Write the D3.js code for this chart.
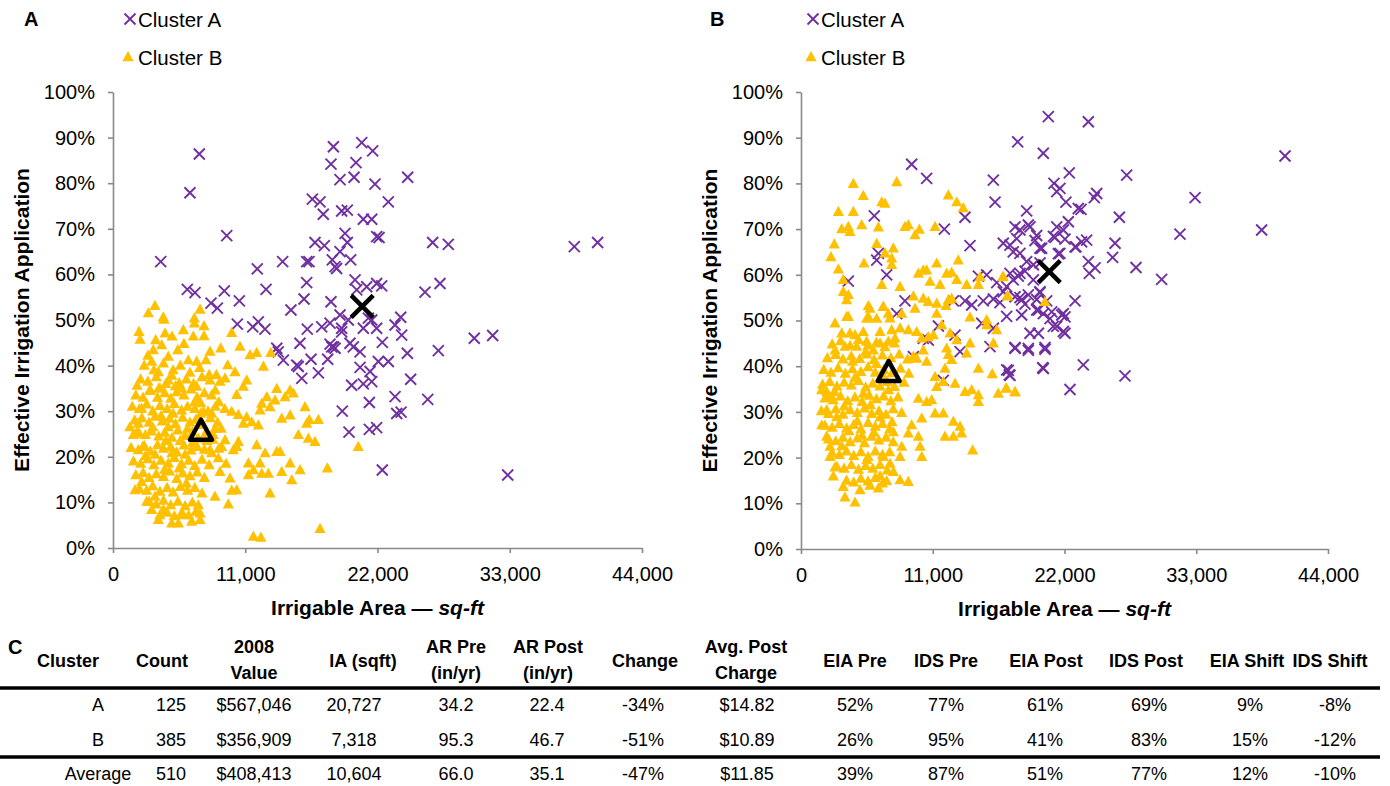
<!DOCTYPE html>
<html>
<head>
<meta charset="utf-8">
<script src="https://cdn.jsdelivr.net/npm/d3@7"></script>
<style>
  body { margin: 0; background: #fff; }
  text { font-family: "Liberation Sans", Arial, sans-serif; fill: #000; }
</style>
</head>
<body>
<div id="chart"></div>
<script>
// ---- data: [irrigable area (sq-ft), effective irrigation application (%)]
const preClusterA = [
  [7180,86.4],[6400,77.9],[9460,68.5],[3970,62.8],[6180,56.7],[6820,56.0],[8150,53.7],[8680,52.6],[9260,56.4],[10510,54.2],
  [12000,61.2],[12730,56.7],[14110,62.8],[14800,52.2],[16110,62.8],[16300,62.8],[16110,58.2],[15890,54.6],[18130,54.0],[18330,88.0],
  [18130,84.2],[18880,80.8],[16580,76.5],[17220,75.9],[17490,73.2],[19020,73.9],[19490,74.1],[16800,67.0],[17580,66.3],[18240,63.2],
  [18600,61.3],[18880,65.0],[19300,69.0],[19490,67.0],[19770,63.2],[20130,58.8],[20690,88.9],[21600,87.1],[20210,84.5],[20050,81.3],
  [21790,79.8],[21520,72.1],[20820,72.1],[21930,68.3],[18880,51.1],[20270,56.6],[21100,57.3],[21930,58.0],[24510,81.3],[22900,75.9],
  [22130,68.1],[26590,67.0],[27890,66.6],[38370,66.1],[40310,67.0],[18470,61.7],[22350,57.5],[25950,56.1],[27200,58.0],[19020,48.2],
  [21240,50.4],[21930,48.2],[23930,50.6],[23460,48.9],[24010,46.7],[22400,45.1],[19710,44.9],[19990,44.1],[20550,43.0],[18190,44.1],
  [18470,43.8],[24480,42.7],[27060,43.3],[30050,46.0],[31580,46.6],[22070,40.9],[22900,40.9],[20550,39.6],[21380,38.7],[24760,37.0],
  [19850,35.7],[20820,36.0],[23460,33.2],[26180,32.6],[19070,30.0],[21320,31.9],[23600,29.5],[23960,29.8],[19630,25.4],[21320,26.0],
  [21930,26.4],[22400,17.1],[32830,16.0],[10340,49.1],[11620,48.5],[12090,49.6],[12640,48.0],[13620,43.8],[13750,43.0],[14170,41.2],
  [15550,44.9],[15280,40.1],[15410,39.8],[15700,37.2],[16470,41.4],[17080,38.4],[16160,48.0],[17360,48.5],[18050,49.3],[17860,41.4],
  [18050,44.7],[18330,44.1],[19020,47.4],[19570,50.0],[20820,48.2],[21520,50.0],[21520,36.5]
];
const preClusterB = [
  [2940,51.5],[3490,53.1],[4180,50.6],[7240,52.3],[6760,50.4],[4240,50.1],[2160,47.4],[2250,45.7],[3550,45.6],[4330,47.1],
  [4910,46.4],[5850,47.8],[6770,49.3],[7570,48.7],[6680,46.4],[7570,46.5],[9870,47.2],[10560,44.2],[8960,43.8],[8070,43.1],
  [7740,41.2],[6960,40.9],[6260,41.2],[5380,43.4],[4050,44.5],[3350,43.4],[3220,40.9],[11400,42.3],[11950,42.8],[12510,39.8],
  [13120,42.8],[9540,40.1],[10150,38.6],[11120,36.8],[10840,35.4],[10290,33.6],[9320,37.2],[8900,36.5],[8070,36.8],[6960,35.4],
  [5710,35.0],[4610,36.8],[3910,35.0],[3080,34.7],[3770,38.6],[2380,30.6],[2110,27.3],[1690,24.8],[2190,25.1],[2470,22.2],
  [1830,12.7],[2380,14.5],[2800,10.2],[3220,8.4],[3770,6.2],[4890,5.4],[5440,5.4],[6540,5.8],[7240,6.2],[7240,7.6],
  [5850,7.2],[4190,8.4],[3490,11.3],[9590,9.6],[8480,11.3],[10290,12.7],[9870,12.6],[8900,16.7],[9730,15.3],[8760,19.7],
  [8070,21.5],[9040,22.2],[10290,22.2],[10430,23.3],[10010,21.5],[9320,23.7],[8480,26.2],[8210,29.5],[7510,29.9],[7240,28.1],
  [8350,24.8],[9870,29.9],[10430,29.2],[11120,28.7],[11540,27.6],[12090,26.9],[10840,27.3],[12230,30.2],[12370,31.7],[12790,33.1],
  [13060,30.9],[13480,32.4],[13620,34.9],[14310,33.1],[14730,34.6],[15000,33.9],[14030,28.4],[14730,29.1],[15420,24.8],[16110,27.3],
  [16330,28.1],[17080,28.1],[15970,30.9],[16250,24.0],[16800,23.3],[11950,22.6],[12650,20.8],[13620,21.1],[13900,21.1],[14730,18.6],
  [15560,17.1],[14030,16.7],[12920,16.3],[12370,16.3],[12230,18.6],[11260,18.6],[11260,16.0],[11680,17.1],[14870,14.9],[13060,12.0],
  [17830,17.5],[20400,22.2],[11680,2.5],[12300,2.3],[17220,4.2],
  [2600,40],[3400,39],[4200,40.5],[5000,39],[5600,40],[6400,38.5],[7200,39.5],[8000,38],
  [2300,37],[2900,36.5],[3600,37.5],[4400,36],[4900,37.8],[5500,36.2],[6100,37],[6700,36],[7400,37.5],[8600,38],
  [1900,33.5],[2500,33],[3100,34.5],[3700,33],[4300,34],[4800,32.8],[5300,34.2],[5900,33.5],[6500,34.8],[7000,33],[7600,34],[8200,33.5],[8800,32],
  [1600,31],[2200,30.5],[2800,31.5],[3300,30],[3900,31.2],[4500,30.5],[5100,31.6],[5700,30.2],[6200,31],[6800,30.5],[7300,31.8],[7900,30],[8500,31],
  [1800,28],[2400,28.5],[3000,27.5],[3500,28.8],[4100,27.8],[4700,28.4],[5200,27.2],[5800,28.6],[6400,27.5],[6900,28.2],[7500,27],[8100,28.5],[8700,27.5],
  [2000,25.5],[2700,24.8],[3200,25.6],[3800,24.5],[4300,25.3],[4900,24.2],[5400,25.8],[6000,24.6],[6600,25.4],[7100,24],[7700,25.2],[8300,23.8],
  [1500,22],[2100,21.5],[2600,22.4],[3100,21.2],[3700,22.6],[4200,21.8],[4800,22.2],[5300,21],[5900,22.5],[6500,21.4],[7000,22.2],[7600,21.6],[8200,20.8],
  [1700,19],[2300,18.5],[2900,19.5],[3400,18.2],[4000,19.2],[4600,18.6],[5100,19.8],[5700,18.4],[6300,19.2],[6800,18],[7400,19.4],[8000,18.2],
  [1900,16],[2500,16.5],[3000,15.4],[3600,16.2],[4200,15.6],[4700,16.8],[5300,15.2],[5800,16.4],[6400,15.8],[7000,16.6],[7600,15.4],
  [2200,13],[2800,12.6],[3300,13.6],[3900,12.4],[4500,13.2],[5000,12.2],[5600,13.4],[6200,12.6],[6800,13.2],[7400,12],
  [3000,10.2],[3600,9.6],[4200,10.4],[4800,9.4],[5400,10.2],[6000,9.2],[6600,10],[7100,9.4],
  [3900,7.2],[4500,7.8],[5100,7],[5700,7.6],[6300,7.2],[6900,8],
  [4600,26.5],[5000,29.5],[5600,23.5],[6200,26.2],[3500,20.5],[4400,23.5],[6800,32],[5200,35.5],[4000,29],[6000,20.5],
  [7300,29.5],[3300,26.5],[5500,17.5],[6600,23],[4900,20.8],[3800,35],[7800,23.5],[4300,17.2],[6100,14.2],[2700,20.2],
  [2900,42.2],[4600,42],[5900,44.8],[8500,34.6],[9300,30.5],[9000,26.2],[8800,21.8],[9400,18.5],[2000,35.6],[1400,26.5]
];
const postClusterA = [
  [9240,84.2],[10490,81.1],[6120,72.9],[11970,70.0],[13690,72.6],[14110,66.4],[6460,64.7],[6320,63.2],[7150,60.0],[3950,58.6],
  [16060,80.7],[16200,75.9],[18090,89.1],[20230,86.6],[20650,94.6],[22400,82.3],[21120,80.0],[21620,78.9],[21350,78.2],[22120,75.9],
  [18840,74.0],[23150,74.5],[17870,70.5],[18280,69.8],[18980,70.9],[19120,70.5],[19680,68.6],[19540,67.5],[21350,70.5],[21900,69.8],
  [22320,71.6],[21210,68.2],[22040,67.8],[16890,66.9],[17450,66.5],[18010,67.9],[17720,65.0],[18280,64.7],[20090,65.8],[21620,64.7],
  [22880,66.1],[18840,62.9],[19400,62.2],[19960,62.6],[15500,60.0],[14810,59.7],[17450,60.3],[18140,59.7],[18700,60.8],[16340,58.3],
  [17170,57.4],[17720,58.9],[19400,58.9],[16890,56.3],[17870,55.2],[18420,54.5],[18980,55.6],[19960,56.1],[20510,54.3],[8680,54.3],
  [12720,54.3],[13690,54.3],[14250,53.4],[15220,54.3],[16060,54.7],[16610,53.9],[7990,51.5],[22880,54.3],[21900,51.5],[20930,51.9],
  [19820,52.3],[20230,51.5],[18420,51.2],[23990,93.5],[40410,86.0],[27190,81.8],[24690,77.8],[24490,76.9],[32900,76.9],[23380,74.3],
  [26580,72.6],[31640,68.9],[38460,69.8],[26220,66.9],[26020,63.8],[23430,67.2],[23850,67.6],[22960,66.1],[21070,68.4],[19950,65.8],
  [21490,64.6],[23990,62.9],[24550,61.5],[24070,60.3],[27970,61.6],[30110,59.0],[18280,60.3],[19950,56.3],[19680,54.6],[18280,55.0],
  [18700,53.6],[19680,52.3],[20790,50.4],[22040,50.8],[21770,51.2],[21350,48.7],[22040,47.2],[17170,50.9],[19120,47.2],[19820,47.2],
  [17870,44.1],[18980,43.9],[20370,44.1],[23570,40.3],[20180,39.7],[27050,37.9],[17310,39.1],[17450,38.0],[22460,34.9],[11470,48.8],
  [10210,46.1],[10630,45.7],[9380,42.1],[12860,46.8],[13280,43.2],[11880,36.9],[15090,49.4],[16060,48.3],[15780,44.3],[17170,39.2],
  [17390,38.1],[17870,43.9],[18980,43.5],[20370,43.7],[20230,39.5],[21060,48.7],[21900,47.6]
];
const postClusterB = [
  [4370,79.9],[7990,80.3],[5200,77.3],[6740,75.9],[7010,75.6],[3120,73.8],[4370,73.8],[12300,77.4],[13000,75.9],[13550,74.6],
  [3400,70.0],[3950,70.5],[4090,69.4],[5070,70.9],[6460,70.4],[8680,70.5],[8960,70.9],[9880,69.9],[9520,68.7],[11190,70.5],
  [2780,66.7],[2500,63.9],[3120,61.2],[3530,58.9],[3530,56.3],[3950,55.6],[6320,66.8],[7010,64.7],[7710,65.8],[7570,63.6],
  [7570,62.2],[5260,62.5],[11330,62.5],[9800,60.3],[10210,61.0],[10490,61.0],[12160,60.3],[12580,60.5],[13130,63.2],[13000,58.9],
  [6740,57.8],[8270,57.4],[10770,58.5],[11610,57.8],[13830,57.8],[14810,57.8],[14950,59.5],[16840,59.5],[9380,55.3],[10210,54.8],
  [10630,54.1],[11330,53.7],[12300,54.5],[12580,54.8],[12110,53.2],[5620,53.2],[5760,52.6],[6870,53.0],[7290,51.5],[9520,52.6],
  [8410,51.5],[17260,55.3],[20370,54.1],[3810,50.8],[5480,50.4],[6320,50.4],[11330,51.5],[14110,50.7],[15500,50.1],[16890,59.6],
  [17230,55.4],[17120,35.2],[17870,34.3],[3810,54.5],[6870,53.0],[5620,50.8],[7430,50.5],[2840,49.4],[3950,50.8],[3400,47.2],
  [4090,47.2],[4510,46.8],[5200,47.5],[6600,47.5],[7570,47.9],[8270,48.3],[8960,47.9],[7850,46.1],[2840,43.5],[3670,44.3],
  [4650,44.3],[5480,45.4],[6040,43.5],[6600,45.0],[7290,45.4],[9660,47.5],[10080,46.1],[10630,46.4],[11050,46.8],[10210,43.5],
  [9660,41.7],[9380,42.1],[10490,41.0],[11750,49.0],[12440,47.2],[12160,43.9],[12300,42.5],[12580,41.4],[13000,45.7],[13830,42.8],
  [14110,45.0],[15500,49.0],[16340,47.9],[16060,45.0],[12020,39.5],[11190,37.7],[11330,35.5],[11880,36.6],[12860,36.2],[13690,34.4],
  [14250,34.8],[14810,33.7],[14810,32.2],[14810,39.5],[15970,38.3],[16470,34.0],[17170,35.1],[17870,34.4],[9800,32.9],[10490,32.2],
  [10910,32.6],[11190,29.7],[11880,29.7],[12720,27.9],[13280,26.8],[13410,25.3],[12020,24.6],[12720,24.6],[14330,21.6],[10080,28.6],
  [9240,27.1],[8960,25.3],[9800,24.6],[9940,22.4],[10080,20.2],[8960,14.7],[8270,15.1],[7710,16.9],[7430,18.7],[6870,20.2],
  [8270,20.2],[8410,22.4],[7710,25.6],[4510,10.2],[3670,11.3],[2700,15.9],[3530,13.6],[4930,12.9],[5760,13.9],[6600,16.0],
  [7150,14.9],[6460,13.3],[1730,34.8],[2140,34.4],[2420,33.3],[1730,27.1],[2140,24.6],[2420,22.4],[2420,20.2],[2840,17.9],
  [2980,28.9],[2140,30.4],
  [2600,44.8],[3300,45.5],[4100,44.5],[4800,45.8],[5600,44.6],[6300,45.2],[7000,44.2],[7800,45],
  [2200,41.8],[2900,42.5],[3500,41.5],[4200,42.2],[4900,41.6],[5500,42.6],[6100,41.4],[6800,42.4],[7500,41.8],[8200,42.6],[8900,41.5],
  [1900,39.2],[2500,38.6],[3100,39.6],[3700,38.4],[4300,39.4],[5000,38.8],[5600,39.8],[6200,38.6],[6900,39.2],[7600,38.5],[8300,39.5],[9000,38.4],
  [1800,36],[2400,36.6],[3000,35.6],[3600,36.4],[4200,35.8],[4800,36.8],[5400,35.4],[6000,36.2],[6600,35.6],[7200,36.6],[7800,35.5],[8600,36.4],
  [2000,33],[2700,32.6],[3300,33.4],[3900,32.4],[4500,33.2],[5100,32.2],[5700,33.6],[6300,32.8],[6900,33.4],[7500,32.4],[8100,33.2],
  [1700,30.2],[2300,29.6],[2900,30.6],[3500,29.4],[4100,30.4],[4700,29.8],[5300,30.8],[5900,29.6],[6500,30.2],[7100,29.4],[7700,30.6],[8400,29.8],
  [2000,27],[2600,26.6],[3200,27.4],[3800,26.4],[4400,27.2],[5000,26.2],[5600,27.6],[6200,26.8],[6800,27.4],[7400,26.2],
  [2300,24],[2900,23.6],[3500,24.4],[4100,23.4],[4700,24.2],[5300,23.2],[5900,24.6],[6500,23.8],[7100,24.4],[7700,23.4],
  [2600,21],[3200,20.6],[3800,21.4],[4400,20.4],[5000,21.2],[5600,20.2],[6200,21.4],[6800,20.6],[7400,21.2],
  [3000,18],[3600,17.6],[4200,18.4],[4800,17.4],[5400,18.2],[6000,17.6],[6600,18.4],[7200,17.2],
  [3800,15],[4400,14.6],[5000,15.4],[5600,14.8],[6200,15.6],[6800,14.4],
  [4500,37.5],[5200,34],[6300,40.5],[5800,31.5],[4700,28],[6100,25.5],[3600,31.2],[6900,37.8],[4000,25.8],[5400,43.2],
  [7300,34.8],[3400,22.5],[5500,19.5],[4300,41],[7600,27.8],[2800,34.4],[6600,28.8],[5100,24.8]
];
// cluster centroids [sq-ft, %]
const preCentroids = [[20727, 53], [7318, 25.5]];
const postCentroids = [[20727, 60.7], [7318, 38.5]];

const xTicks = [0, 11000, 22000, 33000, 44000];
const yTicks = [0, 10, 20, 30, 40, 50, 60, 70, 80, 90, 100];
const seriesNames = ['Cluster A', 'Cluster B'];

const tableHeaders = [['Cluster'], ['Count'], ['2008', 'Value'], ['IA (sqft)'], ['AR Pre', '(in/yr)'], ['AR Post', '(in/yr)'],
  ['Change'], ['Avg. Post', 'Charge'], ['EIA Pre'], ['IDS Pre'], ['EIA Post'], ['IDS Post'], ['EIA Shift'], ['IDS Shift']];
const tableRows = [
  ['A', '125', '$567,046', '20,727', '34.2', '22.4', '-34%', '$14.82', '52%', '77%', '61%', '69%', '9%', '-8%'],
  ['B', '385', '$356,909', '7,318', '95.3', '46.7', '-51%', '$10.89', '26%', '95%', '41%', '83%', '15%', '-12%'],
  ['Average', '510', '$408,413', '10,604', '66.0', '35.1', '-47%', '$11.85', '39%', '87%', '51%', '77%', '12%', '-10%']
];

// ---- layout
const W = 1390, H = 786;
const purple = '#7030a0', gold = '#ffc000', axisGray = '#898989';
const font = '"Liberation Sans", Arial, sans-serif';

const svg = d3.select('#chart').append('svg')
  .attr('width', W).attr('height', H)
  .style('font-family', font);

const xShape = 'M-5.5,-5.5L5.5,5.5M-5.5,5.5L5.5,-5.5';
const triShape = 'M0,-6L5.6,4.2L-5.6,4.2Z';
const bigX = 'M-11,-11L11,11M-11,11L11,-11';
const bigTri = 'M0,-12L11,8L-11,8Z';

function drawPanel (opt) {
  const x = d3.scaleLinear().domain([0, 44000]).range([opt.left, opt.right]);
  const y = d3.scaleLinear().domain([0, 100]).range([opt.bottom, opt.top]);
  const g = svg.append('g');

  // axes
  const yAxis = g.append('g')
    .attr('transform', `translate(${opt.left},0)`)
    .call(d3.axisLeft(y).tickValues(yTicks).tickFormat(d => d + '%').tickSize(5).tickSizeOuter(0).tickPadding(13))
  const xAxis = g.append('g')
    .attr('transform', `translate(0,${opt.bottom})`)
    .call(d3.axisBottom(x).tickValues(xTicks).tickFormat(d3.format(',')).tickSize(5).tickSizeOuter(0).tickPadding(14))
  ;[yAxis, xAxis].forEach(a => {
    a.select('.domain').attr('stroke', axisGray).attr('stroke-width', 1.6)
    a.selectAll('.tick line').attr('stroke', axisGray).attr('stroke-width', 1.6)
    a.selectAll('.tick text').attr('font-size', 20).attr('font-family', font).attr('fill', '#000')
  })

  // axis titles
  g.append('text')
    .attr('transform', `translate(${opt.left - 92},${(opt.top + opt.bottom) / 2}) rotate(-90)`)
    .attr('text-anchor', 'middle').attr('dominant-baseline', 'central')
    .attr('font-size', 21).attr('font-weight', 'bold')
    .text('Effective Irrigation Application')
  const xt = g.append('text')
    .attr('x', (opt.left + opt.right) / 2).attr('y', opt.bottom + 59)
    .attr('text-anchor', 'middle').attr('dominant-baseline', 'central')
    .attr('font-size', 21).attr('font-weight', 'bold')
  xt.append('tspan').text('Irrigable Area \u2014 ')
  xt.append('tspan').attr('font-style', 'italic').text('sq-ft')

  // points: cluster A first, cluster B drawn over it
  g.append('g').selectAll('path')
    .data(opt.a).enter().append('path')
    .attr('d', xShape)
    .attr('transform', d => `translate(${x(d[0])},${y(d[1])})`)
    .attr('fill', 'none').attr('stroke', purple).attr('stroke-width', 1.9)
  g.append('g').selectAll('path')
    .data(opt.b).enter().append('path')
    .attr('d', triShape)
    .attr('transform', d => `translate(${x(d[0])},${y(d[1])})`)
    .attr('fill', gold)

  // centroids
  g.append('path').attr('d', bigX)
    .attr('transform', `translate(${x(opt.c[0][0])},${y(opt.c[0][1])})`)
    .attr('fill', 'none').attr('stroke', '#000').attr('stroke-width', 4.5)
  g.append('path').attr('d', bigTri)
    .attr('transform', `translate(${x(opt.c[1][0])},${y(opt.c[1][1])})`)
    .attr('fill', 'none').attr('stroke', '#000').attr('stroke-width', 4.5).attr('stroke-linejoin', 'round')

  // panel letter + legend
  g.append('text').attr('x', opt.letterX).attr('y', 19)
    .attr('dominant-baseline', 'central').attr('font-size', 20).attr('font-weight', 'bold')
    .text(opt.letter)
  const leg = g.append('g').attr('transform', `translate(${opt.legX},0)`)
  leg.append('path').attr('d', xShape).attr('transform', 'translate(0,19)')
    .attr('fill', 'none').attr('stroke', purple).attr('stroke-width', 1.9)
  leg.append('path').attr('d', triShape).attr('transform', 'translate(-2,57)').attr('fill', gold)
  leg.selectAll('text').data(seriesNames).enter().append('text')
    .attr('x', 8).attr('y', (d, i) => 19 + i * 38)
    .attr('dominant-baseline', 'central').attr('font-size', 20.5)
    .text(d => d)
}

drawPanel({ left: 113, right: 642, top: 92, bottom: 548, a: preClusterA, b: preClusterB, c: preCentroids, letter: 'A', letterX: 24, legX: 130 })
drawPanel({ left: 801, right: 1328, top: 92, bottom: 549, a: postClusterA, b: postClusterB, c: postCentroids, letter: 'B', letterX: 710, legX: 813 })

// ---- table C
const headX = [68, 162, 254, 363, 456, 548, 645, 746, 855, 946, 1046, 1146, 1247, 1330];
const cellX = [98, 171, 254, 354, 456, 547, 643, 747, 855, 946, 1045, 1149, 1250, 1335];
const rowY = [705, 740, 774];
const tbl = svg.append('g');
tbl.append('text').attr('x', 8).attr('y', 647).attr('dominant-baseline', 'central')
  .attr('font-size', 20).attr('font-weight', 'bold').text('C');
tableHeaders.forEach((h, i) => {
  h.forEach((line, j) => {
    tbl.append('text')
      .attr('x', headX[i])
      .attr('y', h.length === 1 ? 661 : 647 + j * 26)
      .attr('text-anchor', 'middle').attr('dominant-baseline', 'central')
      .attr('font-size', 18).attr('font-weight', 'bold')
      .text(line)
  })
});
tableRows.forEach((r, ri) => {
  tbl.selectAll(null).data(r).enter().append('text')
    .attr('x', (d, i) => cellX[i]).attr('y', rowY[ri])
    .attr('text-anchor', 'middle').attr('dominant-baseline', 'central')
    .attr('font-size', 18)
    .text(d => d)
});
[688, 757].forEach(yy => {
  tbl.append('line').attr('x1', 0).attr('x2', 1380).attr('y1', yy).attr('y2', yy)
    .attr('stroke', '#000').attr('stroke-width', 3.5)
});
</script>
</body>
</html>
